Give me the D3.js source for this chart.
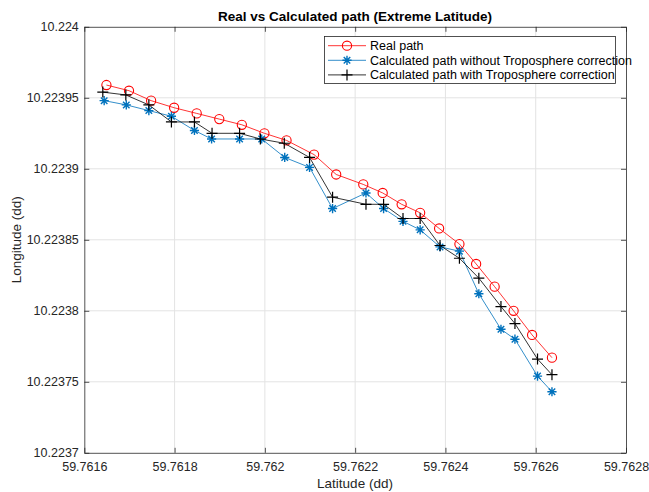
<!DOCTYPE html>
<html>
<head>
<meta charset="utf-8">
<script src="https://cdn.jsdelivr.net/npm/d3@7"></script>
<style>
  html, body { margin: 0; padding: 0; background: #fff; }
  svg { display: block; font-family: "Liberation Sans", Arial, Helvetica, sans-serif; }
</style>
</head>
<body>
<svg id="chart" width="649" height="492"></svg>
<script>
// Latitude / longitude samples along the track (decimal degrees)
const realLat = [59.761649, 59.761699, 59.761748, 59.761799, 59.761849, 59.761899, 59.761949, 59.761999, 59.762048, 59.762109, 59.762158, 59.762218, 59.762261, 59.762303, 59.762344, 59.762386, 59.762431, 59.762468, 59.762509, 59.762551, 59.762592, 59.762636];
const realLon = [10.223959, 10.223955, 10.223948, 10.223943, 10.223939, 10.223935, 10.223931, 10.223925, 10.223920, 10.223910, 10.223896, 10.223889, 10.223883, 10.223875, 10.223869, 10.223858, 10.223847, 10.223833, 10.223817, 10.223800, 10.223783, 10.223767];

const noTropoLat = [59.761644, 59.761693, 59.761743, 59.761793, 59.761844, 59.761882, 59.761944, 59.761993, 59.762044, 59.762099, 59.762150, 59.762224, 59.762263, 59.762306, 59.762344, 59.762388, 59.762431, 59.762474, 59.762523, 59.762554, 59.762604, 59.762636];
const noTropoLon = [10.223948, 10.223945, 10.223941, 10.223937, 10.223927, 10.223921, 10.223921, 10.223921, 10.223908, 10.223901, 10.223872, 10.223883, 10.223872, 10.223863, 10.223857, 10.223845, 10.223842, 10.223812, 10.223787, 10.223780, 10.223754, 10.223743];

const tropoLat = [59.761641, 59.761692, 59.761743, 59.761793, 59.761844, 59.761883, 59.761944, 59.761990, 59.762043, 59.762099, 59.762150, 59.762224, 59.762263, 59.762306, 59.762344, 59.762388, 59.762431, 59.762474, 59.762523, 59.762554, 59.762604, 59.762636];
const tropoLon = [10.223954, 10.223952, 10.223945, 10.223933, 10.223933, 10.223925, 10.223925, 10.223921, 10.223918, 10.223908, 10.223880, 10.223875, 10.223875, 10.223865, 10.223865, 10.223846, 10.223837, 10.223823, 10.223803, 10.223791, 10.223766, 10.223755];

const xTicks = [59.7616, 59.7618, 59.7620, 59.7622, 59.7624, 59.7626, 59.7628];
const xTickLabels = ["59.7616", "59.7618", "59.762", "59.7622", "59.7624", "59.7626", "59.7628"];
const yTicks = [10.2240, 10.22395, 10.2239, 10.22385, 10.2238, 10.22375, 10.2237];
const yTickLabels = ["10.224", "10.22395", "10.2239", "10.22385", "10.2238", "10.22375", "10.2237"];

const seriesNames = ["Real path", "Calculated path without Troposphere correction", "Calculated path with Troposphere correction"];

const svg = d3.select("#chart");
const plotLeft = 84.3, plotRight = 626, plotTop = 26.8, plotBottom = 452.8;
const axisColor = "#262626";

const x = d3.scaleLinear().domain([59.7616, 59.7628]).range([plotLeft, plotRight]);
const y = d3.scaleLinear().domain([10.2237, 10.2240]).range([plotBottom, plotTop]);

// grid
const grid = svg.append("g").attr("stroke", "#e3e3e3").attr("stroke-width", 1);
xTicks.slice(1, -1).forEach(t => grid.append("line").attr("x1", x(t)).attr("x2", x(t)).attr("y1", plotTop).attr("y2", plotBottom));
yTicks.slice(1, -1).forEach(t => grid.append("line").attr("x1", plotLeft).attr("x2", plotRight).attr("y1", y(t)).attr("y2", y(t)));

// axes with inward ticks on all four sides
const fmtX = d => xTickLabels[xTicks.indexOf(d)];
const fmtY = d => yTickLabels[yTicks.indexOf(d)];

function styleAxis(g) {
  g.selectAll("path").attr("stroke", axisColor).attr("stroke-width", 0.8);
  g.selectAll("line").attr("stroke", axisColor).attr("stroke-width", 0.8);
  g.selectAll("text").attr("fill", axisColor).attr("font-size", "12.5px")
    .attr("font-family", "\"Liberation Sans\", Arial, sans-serif");
}

svg.append("g").attr("transform", `translate(0,${plotBottom})`)
  .call(d3.axisBottom(x).tickValues(xTicks).tickFormat(fmtX).tickSizeInner(-5).tickSizeOuter(0).tickPadding(9))
  .call(styleAxis);
svg.append("g").attr("transform", `translate(0,${plotTop})`)
  .call(d3.axisTop(x).tickValues(xTicks).tickFormat("").tickSizeInner(-5).tickSizeOuter(0))
  .call(styleAxis);
svg.append("g").attr("transform", `translate(${plotLeft},0)`)
  .call(d3.axisLeft(y).tickValues(yTicks).tickFormat(fmtY).tickSizeInner(-5).tickSizeOuter(0).tickPadding(5.5))
  .call(styleAxis);
svg.append("g").attr("transform", `translate(${plotRight},0)`)
  .call(d3.axisRight(y).tickValues(yTicks).tickFormat("").tickSizeInner(-5).tickSizeOuter(0))
  .call(styleAxis);

// plot series
const line = d3.line().x(d => x(d[0])).y(d => y(d[1]));
const zip = (a, b) => a.map((v, i) => [v, b[i]]);

const series = [
  { pts: zip(realLat, realLon), color: "#ff0000", marker: "circle" },
  { pts: zip(noTropoLat, noTropoLon), color: "#0072bd", marker: "star" },
  { pts: zip(tropoLat, tropoLon), color: "#000000", marker: "plus" }
];

function drawMarker(g, cx, cy, type, color) {
  if (type === "circle") {
    g.append("circle").attr("cx", cx).attr("cy", cy).attr("r", 4.6)
      .attr("fill", "none").attr("stroke", color).attr("stroke-width", 1.1);
  } else if (type === "star") {
    const r = 4.6, p = [];
    for (let k = 0; k < 4; k++) {
      const a = k * Math.PI / 4;
      p.push(`M${cx - r * Math.cos(a)},${cy - r * Math.sin(a)}L${cx + r * Math.cos(a)},${cy + r * Math.sin(a)}`);
    }
    g.append("path").attr("d", p.join("")).attr("stroke", color).attr("stroke-width", 1.4).attr("fill", "none");
  } else {
    const r = 5.5;
    g.append("path").attr("d", `M${cx - r},${cy}L${cx + r},${cy}M${cx},${cy - r}L${cx},${cy + r}`)
      .attr("stroke", color).attr("stroke-width", 1.2).attr("fill", "none");
  }
}

series.forEach(s => {
  const g = svg.append("g");
  g.append("path").datum(s.pts).attr("d", line).attr("fill", "none")
    .attr("stroke", s.color).attr("stroke-width", 0.8);
  s.pts.forEach(p => drawMarker(g, x(p[0]), y(p[1]), s.marker, s.color));
});

// legend
const lg = svg.append("g");
lg.append("rect").attr("x", 324.5).attr("y", 36.5).attr("width", 291).attr("height", 47)
  .attr("fill", "#fff").attr("stroke", axisColor).attr("stroke-width", 0.8);
seriesNames.forEach((name, i) => {
  const ly = 45.7 + i * 14.6;
  lg.append("line").attr("x1", 328).attr("x2", 366).attr("y1", ly).attr("y2", ly)
    .attr("stroke", series[i].color).attr("stroke-width", 0.8);
  drawMarker(lg, 347, ly, series[i].marker, series[i].color);
  lg.append("text").attr("x", 370).attr("y", ly + 4.3).attr("font-size", "12.5px")
    .attr("fill", "#000").text(name);
});

// title and axis labels
svg.append("text").attr("x", 355).attr("y", 21).attr("text-anchor", "middle")
  .attr("font-size", "13.5px").attr("font-weight", "bold").attr("fill", "#000")
  .text("Real vs Calculated path (Extreme Latitude)");
svg.append("text").attr("x", 355).attr("y", 488).attr("text-anchor", "middle")
  .attr("font-size", "13.5px").attr("fill", axisColor).text("Latitude (dd)");
svg.append("text").attr("transform", `translate(21,${(plotTop + plotBottom) / 2}) rotate(-90)`)
  .attr("text-anchor", "middle").attr("font-size", "13.5px").attr("fill", axisColor)
  .text("Longitude (dd)");
</script>
</body>
</html>
